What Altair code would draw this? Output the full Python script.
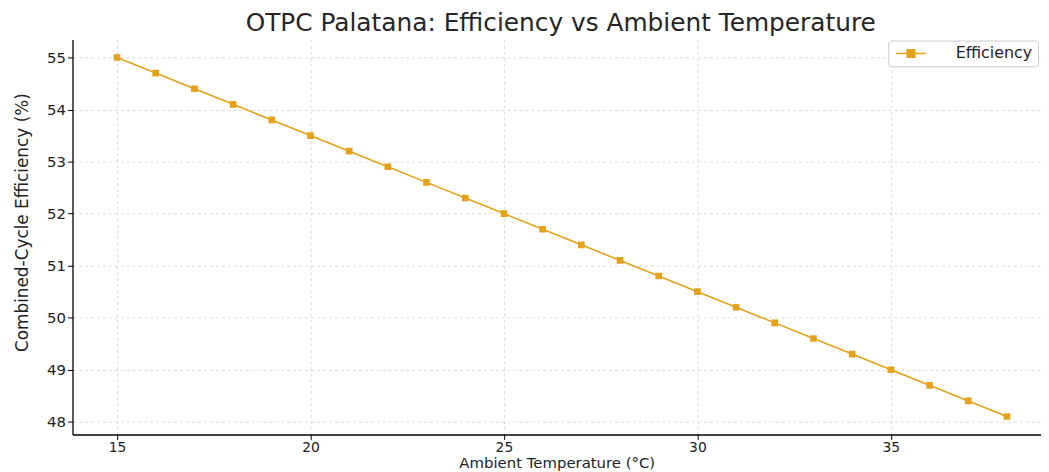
import altair as alt
import pandas as pd

temperature = [15, 16, 17, 18, 19, 20, 21, 22, 23, 24, 25, 26,
               27, 28, 29, 30, 31, 32, 33, 34, 35, 36, 37, 38]
efficiency = [55.0, 54.7, 54.4, 54.1, 53.8, 53.5, 53.2, 52.9, 52.6, 52.3, 52.0, 51.7,
              51.4, 51.1, 50.8, 50.5, 50.2, 49.9, 49.6, 49.3, 49.0, 48.7, 48.4, 48.1]
series = ["Efficiency"] * len(temperature)

df = pd.DataFrame({"t": temperature, "e": efficiency, "s": series})

COLOR = "#E3A21A"
FONT = "DejaVu Sans"

sym = "M-3,0L-0.75,0M0.75,0L3,0M-0.75,-0.75L0.75,-0.75L0.75,0.75L-0.75,0.75Z"

chart = alt.Chart(df).mark_line(
    strokeWidth=1.6,
    clip=True,
    point=alt.OverlayMarkDef(shape="square", size=45, filled=True, opacity=1, color=COLOR),
).encode(
    x=alt.X("t:Q", title="Ambient Temperature (°C)",
            scale=alt.Scale(domain=[13.85, 38.88], nice=False, zero=False),
            axis=alt.Axis(values=[15, 20, 25, 30, 35], format="d",
                          labelFontSize=14, labelPadding=1,
                          titleFontSize=15, titlePadding=1)),
    y=alt.Y("e:Q", title="Combined-Cycle Efficiency (%)",
            scale=alt.Scale(domain=[47.755, 55.345], nice=False, zero=False),
            axis=alt.Axis(values=[48, 49, 50, 51, 52, 53, 54, 55], format="d",
                          labelFontSize=15, labelPadding=2,
                          titleFontSize=17, titlePadding=15,
                          titleY=184)),
    color=alt.Color("s:N", title=None,
                    scale=alt.Scale(range=[COLOR]),
                    legend=alt.Legend(orient="none", legendX=822, legendY=1,
                                      symbolType=sym, symbolSize=100,
                                      symbolOffset=10,
                                      symbolStrokeWidth=1.6,
                                      symbolFillColor=COLOR, symbolStrokeColor=COLOR,
                                      labelFontSize=16, labelFont=FONT, labelColor="#222",
                                      labelOffset=37,
                                      strokeColor="#cccccc", fillColor="white",
                                      cornerRadius=3, padding=5)),
).properties(
    width=976, height=398,
    title=alt.TitleParams("OTPC Palatana: Efficiency vs Ambient Temperature",
                          fontSize=25, font=FONT, fontWeight="normal", color="#262626",
                          offset=4, dx=4),
    autosize=alt.AutoSizeParams(type="none"),
    padding={"left": 65, "top": 30, "right": 0, "bottom": 35},
).configure_view(
    stroke=None
).configure_axis(
    labelFont=FONT, titleFont=FONT,
    titleFontWeight="normal", labelColor="#222", titleColor="#222",
    domainColor="#000", domainWidth=1.3, tickColor="#000", tickSize=5,
    grid=True, gridColor="#d0d0d0", gridDash=[3, 3], gridWidth=0.8,
)

chart.save("out.html", embed_options={"renderer": "svg", "actions": False})
